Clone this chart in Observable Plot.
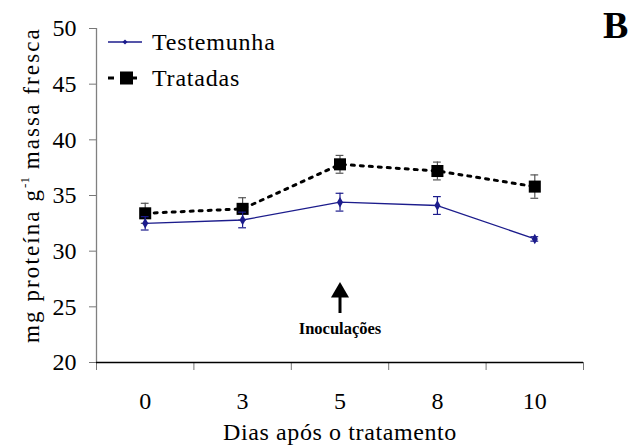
<!DOCTYPE html>
<html>
<head>
<meta charset="utf-8">
<script src="https://cdn.jsdelivr.net/npm/d3@7"></script>
<script src="https://cdn.jsdelivr.net/npm/@observablehq/plot@0.6"></script>
<style>
  body { margin: 0; background: #fff; }
  #chart, #chart div, #chart span { font-family: 'Liberation Serif', serif; }
  #chart { position: relative; width: 643px; height: 448px; color: #000; }
  #chart > svg { position: absolute; left: 0; top: 0; }
  .lbl { position: absolute; white-space: nowrap; line-height: 1; }
  #ylabel { font-size: 23px; letter-spacing: 2.1px; transform-origin: 0 0; transform: rotate(-90deg); }
  #ylabel sup { font-size: 13px; vertical-align: 0.75em; letter-spacing: 0; }
  #xlabel { font-size: 24px; letter-spacing: 0.6px; }
  #panel { font-size: 38px; font-weight: bold; }
  .leg { position: absolute; display: flex; align-items: center; font-size: 24px; letter-spacing: 0.8px; }
  .leg svg { margin-right: 8px; }
</style>
</head>
<body>
<div id="chart"></div>
<script>
// Protein content (mg g-1 fresh mass) on each sampling day
const days = ["0", "3", "5", "8", "10"];
const testemunha = [32.5, 32.8, 34.4, 34.1, 31.1];
const testemunhaErr = [0.6, 0.7, 0.8, 0.8, 0.2];
const tratadas = [33.4, 33.8, 37.8, 37.2, 35.8];
const tratadasErr = [0.9, 1.0, 0.8, 0.8, 1.05];
const yTicks = [20, 25, 30, 35, 40, 45, 50];
const inoculationDay = "5";
const inoculationArrow = [24.4, 27.2]; // tail, tip (y units)
const inoculationLabelY = 23.05;

const serif = "'Liberation Serif', serif";
const blue = "#1c1c8c";
const idx = days.map((_, i) => i);
const ctrl = idx.map(i => ({i, v: testemunha[i], e: testemunhaErr[i]}));
const trt = idx.map(i => ({i, v: tratadas[i], e: tratadasErr[i]}));
const inoc = days.indexOf(inoculationDay);
const bandEdges = d3.range(-0.5, days.length, 1);
const capHalf = 0.04;

const errorBars = (data, stroke) => [
  Plot.ruleX(data, {x: "i", y1: d => d.v - d.e, y2: d => d.v + d.e, stroke, strokeWidth: 1.2}),
  Plot.ruleY(data, {x1: d => d.i - capHalf, x2: d => d.i + capHalf, y: d => d.v + d.e, stroke, strokeWidth: 1.2}),
  Plot.ruleY(data, {x1: d => d.i - capHalf, x2: d => d.i + capHalf, y: d => d.v - d.e, stroke, strokeWidth: 1.2})
];

const plot = Plot.plot({
  width: 643,
  height: 448,
  marginLeft: 96,
  marginRight: 60,
  marginTop: 28,
  marginBottom: 86,
  style: `font-family: ${serif}; font-size: 24px; background: transparent; overflow: visible;`,
  x: {type: "linear", domain: [-0.5, days.length - 0.5]},
  y: {domain: [20, 50]},
  marks: [
    Plot.axisY({ticks: yTicks, tickSize: 7, tickPadding: 13, label: null, stroke: "#777", fill: "#000", fontSize: 24, fontFamily: serif}),
    Plot.axisX({ticks: idx, tickSize: 0, tickPadding: 29, tickFormat: i => days[i], label: null, fontSize: 24, fontFamily: serif, fill: "#000"}),
    Plot.axisX({ticks: bandEdges, tickSize: 8, tickFormat: () => "", label: null, stroke: "#777"}),
    Plot.ruleX([-0.5], {y1: 20, y2: 50, stroke: "#808080", strokeWidth: 1.3}),
    Plot.ruleY([20], {stroke: "#000", strokeWidth: 1.3}),
    ...errorBars(trt, "#555"),
    Plot.line(trt, {x: "i", y: "v", stroke: "#000", strokeWidth: 3, strokeDasharray: "3,6"}),
    Plot.dot(trt, {x: "i", y: "v", symbol: "square", r: 6.8, fill: "#000", stroke: "none"}),
    ...errorBars(ctrl, blue),
    Plot.line(ctrl, {x: "i", y: "v", stroke: blue, strokeWidth: 1.3}),
    Plot.dot(ctrl, {x: "i", y: "v", symbol: "diamond", r: 3.2, fill: blue, stroke: "none"}),
    // inoculation arrow
    Plot.ruleX([inoc], {y1: inoculationArrow[0], y2: inoculationArrow[1] - 1, stroke: "#000", strokeWidth: 3}),
    Plot.dot([inoc], {x: d => d, y: inoculationArrow[1], symbol: "triangle", r: 6.7, fill: "#000", stroke: "none", dy: 10}),
    Plot.text([inoc], {x: d => d, y: inoculationLabelY, text: () => "Inoculações", fontWeight: "bold", fontSize: 16.5, fontFamily: serif, fill: "#000"})
  ]
});

const chart = document.getElementById("chart");
chart.appendChild(plot);

function addLabel(id, html, left, top) {
  const el = document.createElement("div");
  el.className = "lbl";
  el.id = id;
  el.innerHTML = html;
  el.style.left = left + "px";
  el.style.top = top + "px";
  chart.appendChild(el);
  return el;
}

// axis titles and panel letter
const yl = addLabel("ylabel", "mg proteína g<sup>-1</sup> massa fresca", 0, 0);
const ylW = yl.getBoundingClientRect().height; // rotated: height is the text length
yl.style.left = "18px";
yl.style.top = (185 + ylW / 2) + "px";
const xl = addLabel("xlabel", "Dias após o tratamento", 0, 420);
xl.style.left = (340 - xl.getBoundingClientRect().width / 2) + "px";
addLabel("panel", "B", 603, 6);

// legend
function legendRow(top, swatch, label) {
  const row = document.createElement("div");
  row.className = "leg";
  row.style.left = "106px";
  row.style.top = top + "px";
  row.innerHTML = swatch + "<span>" + label + "</span>";
  chart.appendChild(row);
}
legendRow(28,
  `<svg width="38" height="28"><line x1="2" x2="36" y1="14" y2="14" stroke="${blue}" stroke-width="1.3"/><path d="M19 11.5 L21.5 14 L19 16.5 L16.5 14 Z" fill="${blue}"/></svg>`,
  "Testemunha");
legendRow(64,
  `<svg width="38" height="28"><line x1="2" x2="8" y1="14" y2="14" stroke="#000" stroke-width="3"/><rect x="14" y="7.5" width="13" height="13" fill="#000"/><line x1="27" x2="31" y1="14" y2="14" stroke="#000" stroke-width="3"/></svg>`,
  "Tratadas");
</script>
</body>
</html>
